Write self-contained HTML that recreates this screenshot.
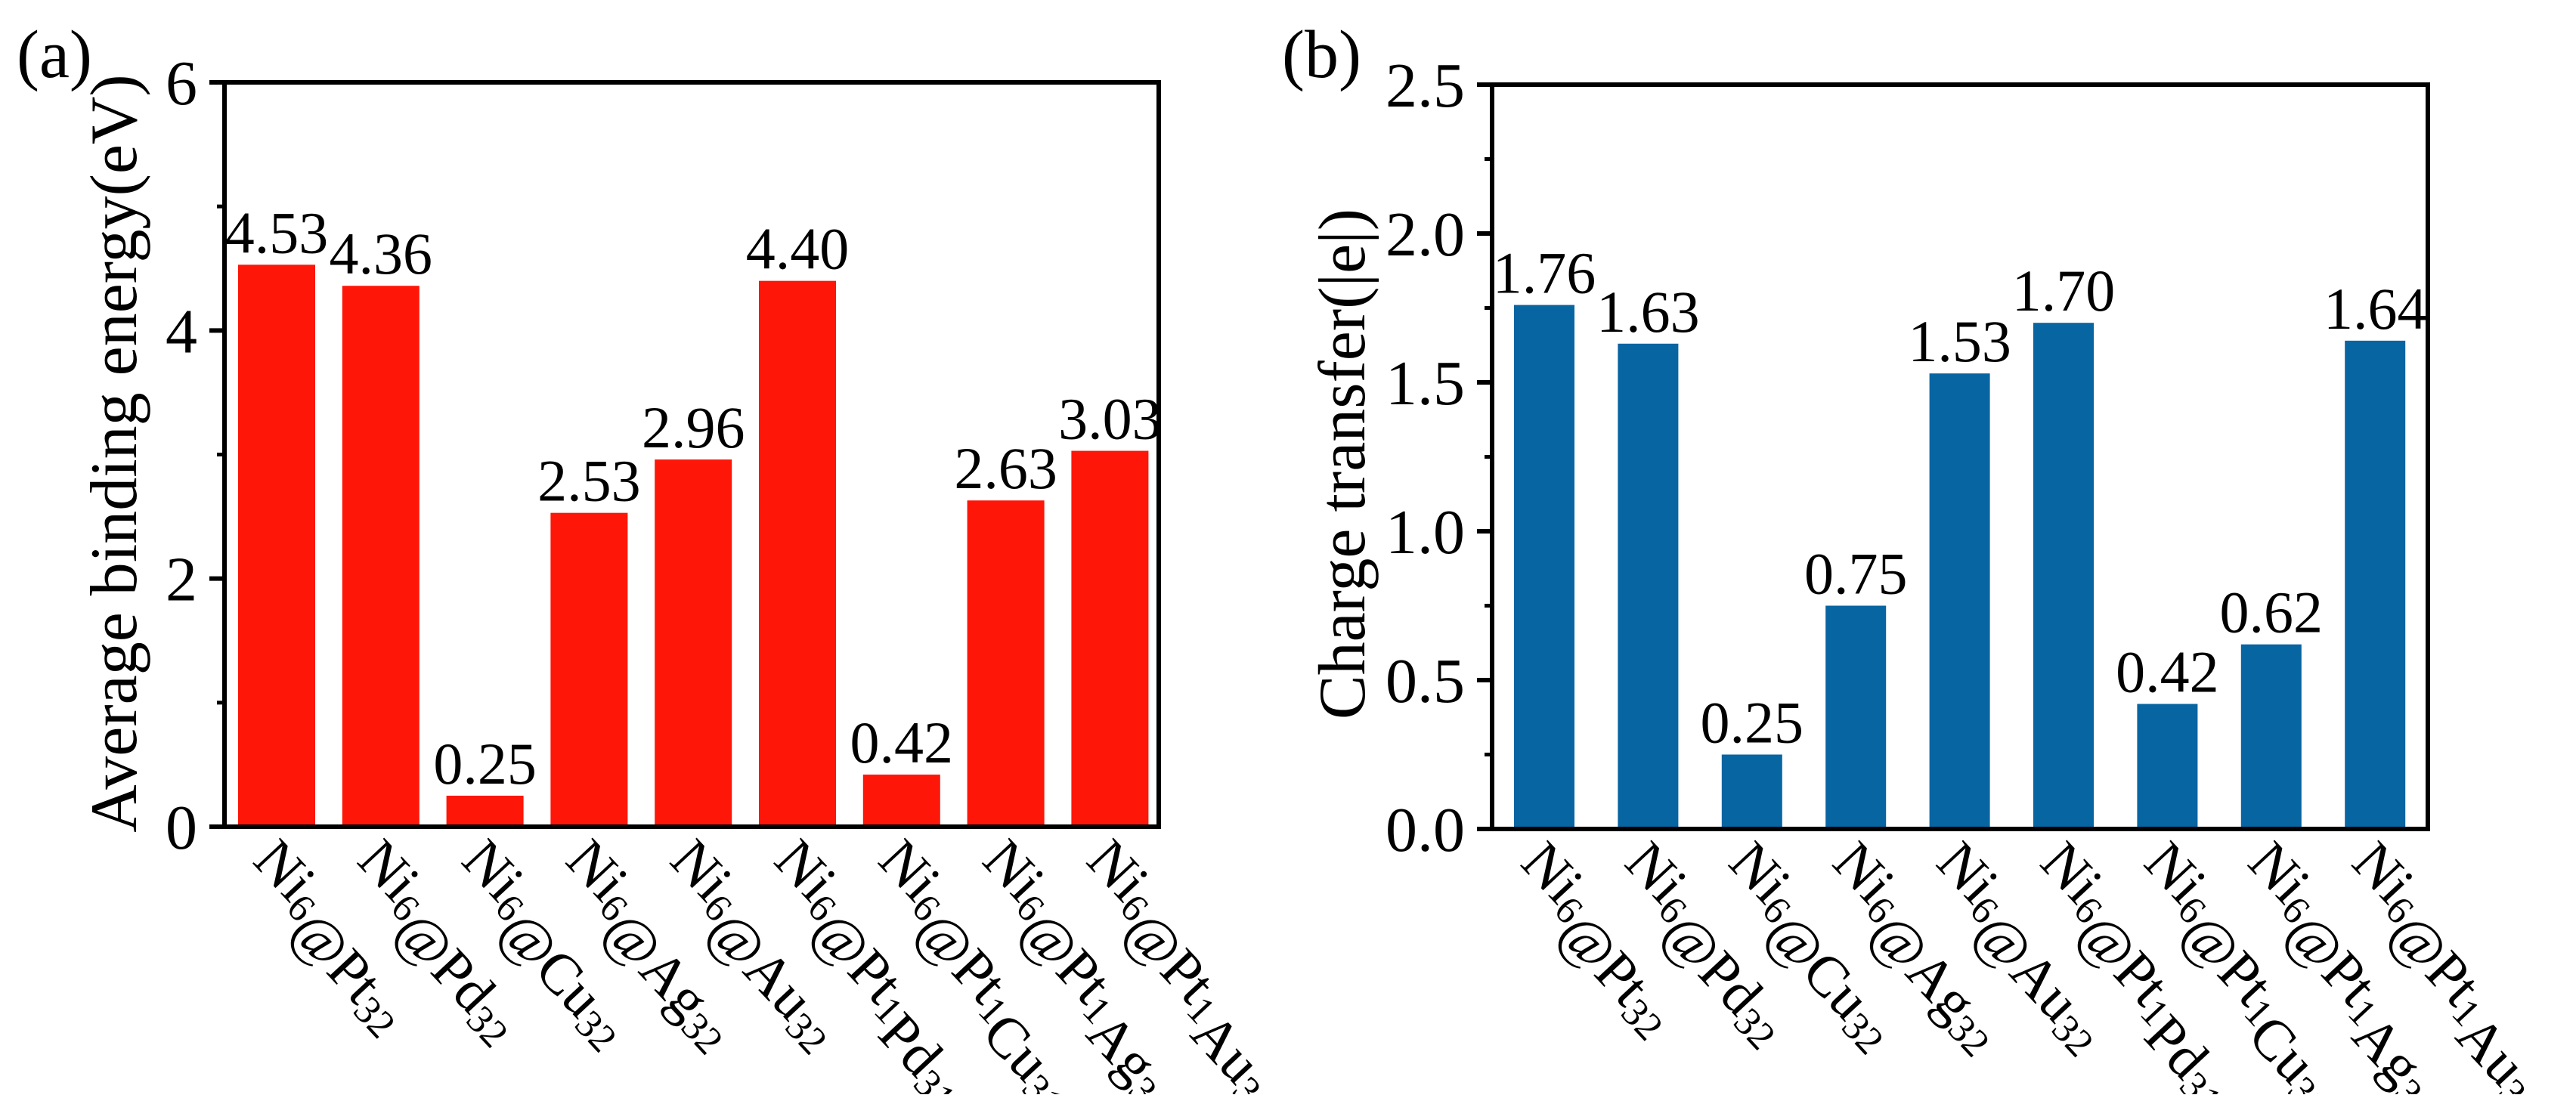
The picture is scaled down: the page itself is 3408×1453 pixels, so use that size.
<!DOCTYPE html>
<html><head><meta charset="utf-8"><style>
html,body{margin:0;padding:0;background:#fff;}
svg, svg text, svg tspan{font-family:"Liberation Serif","Times New Roman","DejaVu Serif",serif;}
</style></head><body>
<svg id="fig" width="3408" height="1448" viewBox="0 0 3408 1448" xmlns="http://www.w3.org/2000/svg" font-family="Liberation Serif, Times New Roman, DejaVu Serif, serif"></svg>
<script>
const catParts = [
 [["Ni",0],["6",1],["@Pt",0],["32",1]],
 [["Ni",0],["6",1],["@Pd",0],["32",1]],
 [["Ni",0],["6",1],["@Cu",0],["32",1]],
 [["Ni",0],["6",1],["@Ag",0],["32",1]],
 [["Ni",0],["6",1],["@Au",0],["32",1]],
 [["Ni",0],["6",1],["@Pt",0],["1",1],["Pd",0],["31",1]],
 [["Ni",0],["6",1],["@Pt",0],["1",1],["Cu",0],["31",1]],
 [["Ni",0],["6",1],["@Pt",0],["1",1],["Ag",0],["31",1]],
 [["Ni",0],["6",1],["@Pt",0],["1",1],["Au",0],["31",1]]
];
const bindingEnergy = [4.53,4.36,0.25,2.53,2.96,4.40,0.42,2.63,3.03];
const bindingLabels = ["4.53","4.36","0.25","2.53","2.96","4.40","0.42","2.63","3.03"];
const chargeTransfer = [1.76,1.63,0.25,0.75,1.53,1.70,0.42,0.62,1.64];
const chargeLabels = ["1.76","1.63","0.25","0.75","1.53","1.70","0.42","0.62","1.64"];
const ticksA = [0,2,4,6];
const ticksALabels = ["0","2","4","6"];
const minorA = [1,3,5];
const ticksB = [0,0.5,1.0,1.5,2.0,2.5];
const ticksBLabels = ["0.0","0.5","1.0","1.5","2.0","2.5"];
const minorB = [0.25,0.75,1.25,1.75,2.25];

const NS="http://www.w3.org/2000/svg";
const FONT="Liberation Serif, Times New Roman, DejaVu Serif, serif";
const svg=document.getElementById('fig');
function mk(tag,attrs,parent){const e=document.createElementNS(NS,tag);for(const k in attrs)e.setAttribute(k,attrs[k]);if(tag==='text')e.setAttribute('font-family',FONT);(parent||svg).appendChild(e);return e;}

function panel(cfg){
  const g=mk('g',{});
  
  
  const y=v=>cfg.bottom-(v-cfg.ymin)/(cfg.ymax-cfg.ymin)*(cfg.bottom-cfg.top);
  const xc=i=>cfg.c0+i*cfg.pitch;
  cfg.values.forEach((v,i)=>{
    const r=mk('rect',{x:xc(i)-cfg.bw/2,y:y(v),width:cfg.bw,height:y(0)-y(v),fill:cfg.color},g);
    
    
    const t=mk('text',{x:xc(i),y:y(v)-16,'font-size':78,'text-anchor':'middle',fill:'#000'},g);
    t.textContent=cfg.labels[i];
    
    
  });
  const f=mk('rect',{x:cfg.left,y:cfg.top,width:cfg.right-cfg.left,height:cfg.bottom-cfg.top,fill:'none',stroke:'#000','stroke-width':6},g);
  
  
  cfg.ticks.forEach((v,i)=>{
    mk('line',{x1:cfg.left-20,x2:cfg.left,y1:y(v),y2:y(v),stroke:'#000','stroke-width':6},g);
    const t=mk('text',{x:cfg.left-36,y:y(v)+29,'font-size':84,'text-anchor':'end'},g);
    t.textContent=cfg.tickLabels[i];
    
    
  });
  cfg.minor.forEach(v=>{mk('line',{x1:cfg.left-10,x2:cfg.left,y1:y(v),y2:y(v),stroke:'#000','stroke-width':5},g);});
  catParts.forEach((parts,i)=>{
    const x0=xc(i)+6,y0=cfg.bottom+10;
    const t=mk('text',{x:x0,y:y0,'font-size':76,transform:`rotate(47 ${x0} ${y0})`,'dominant-baseline':'hanging'},g);
    
    
    parts.forEach(([s,sub])=>{
      const ts=mk('tspan',sub?{'font-size':52,dy:28}:{'font-size':76},t);
      ts.textContent=s;
      if(sub){const back=mk('tspan',{'font-size':76,dy:-28},t);back.textContent='';}
    });
  });
  const yt=mk('text',{x:cfg.titleX,y:cfg.titleY,'font-size':88,'text-anchor':'middle',transform:`rotate(-90 ${cfg.titleX} ${cfg.titleY})`},g);
  yt.textContent=cfg.title;
  
  
  const pl=mk('text',{x:cfg.plx,y:102,'font-size':90},g);
  pl.textContent=cfg.panelLabel;
  
  
}
panel({name:'chart-binding-energy',left:297,right:1533,top:109,bottom:1094,ymin:0,ymax:6,
  c0:366,pitch:137.8,bw:102,values:bindingEnergy,labels:bindingLabels,color:'#fe1608',
  ticks:ticksA,tickLabels:ticksALabels,minor:minorA,title:'Average binding energy(eV)',
  titleX:180,titleY:600,panelLabel:'(a)',plx:22});
panel({name:'chart-charge-transfer',left:1974,right:3212,top:112,bottom:1097,ymin:0,ymax:2.5,
  c0:2043,pitch:137.4,bw:80,values:chargeTransfer,labels:chargeLabels,color:'#0765a2',
  ticks:ticksB,tickLabels:ticksBLabels,minor:minorB,title:'Charge transfer(|e|)',
  titleX:1805,titleY:614,panelLabel:'(b)',plx:1696});
</script>
</body></html>
